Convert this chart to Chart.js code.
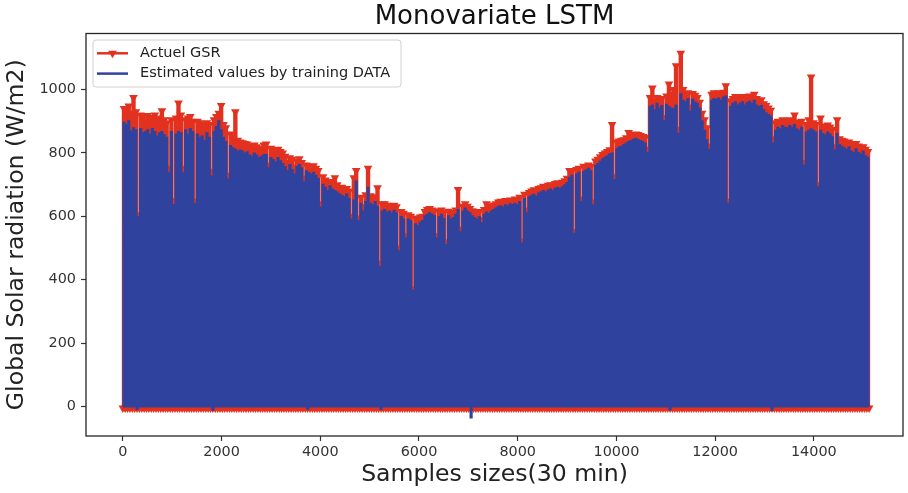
<!DOCTYPE html>
<html>
<head>
<meta charset="utf-8">
<script src="https://cdn.jsdelivr.net/npm/chart.js@4.4.1/dist/chart.umd.min.js"></script>
<style>
  html, body { margin: 0; padding: 0; background: #ffffff; }
  #wrap { width: 908px; height: 493px; }
</style>
</head>
<body>
<div id="wrap"><canvas id="c" width="908" height="493"></canvas></div>
<script>
// ---------------- data ----------------
const chartTitle = "Monovariate LSTM";
const xAxisTitle = "Samples sizes(30 min)";
const yAxisTitle = "Global Solar radiation (W/m2)";
const seriesNames = ["Actuel GSR", "Estimated values by training DATA"];
const samplesPerDay = 48;               // 30-min samples per day
const xTickValues = [0, 2000, 4000, 6000, 8000, 10000, 12000, 14000];
const yTickValues = [0, 200, 400, 600, 800, 1000];

// daily peak of the measured GSR (W/m2), one value per day
const actualDailyPeak = [
  940, 935, 948, 925, 975, 930, 605, 920, 915, 905,
  918, 905, 912, 920, 900, 910, 933, 905, 895, 752,
  905, 650, 910, 958, 920, 752, 905, 910, 915, 900,
  648, 900, 895, 890, 880, 895, 890, 742, 905, 915,
  925, 950, 890, 880, 730, 860, 850, 930, 840, 835,
  832, 830, 828, 822, 818, 825, 820, 815, 812, 825,
  828, 762, 815, 808, 800, 812, 805, 800, 790, 770,
  785, 780, 755, 775, 782, 770, 720, 762, 758, 755,
  760, 752, 745, 640, 725, 715, 705, 710, 705, 722,
  700, 690, 692, 685, 688, 680, 600, 722, 745, 595,
  660, 630, 668, 752, 665, 655, 662, 690, 452, 640,
  640, 635, 632, 628, 635, 630, 500, 615, 610, 540,
  605, 600, 372, 595, 590, 598, 600, 615, 622, 625,
  620, 618, 540, 615, 620, 612, 520, 616, 610, 612,
  620, 685, 560, 632, 640, 632, 625, 618, 612, 608,
  615, 590, 622, 640, 625, 632, 636, 640, 645, 648,
  645, 650, 648, 652, 650, 655, 652, 660, 522, 670,
  620, 675, 680, 684, 680, 688, 690, 695, 692, 698,
  700, 698, 704, 706, 702, 708, 712, 720, 745, 742,
  552, 748, 752, 655, 758, 755, 762, 758, 645, 775,
  780, 788, 795, 800, 805, 810, 890, 725, 835, 838,
  840, 842, 848, 865, 855, 858, 860, 858, 855, 852,
  850, 812, 975, 1005, 965, 975, 965, 972, 912, 980,
  1018, 985, 1000, 1075, 875, 1115, 1000, 985, 990, 945,
  988, 982, 975, 960, 925, 905, 880, 822, 985, 990,
  985, 990, 985, 992, 1012, 648, 965, 972, 978, 970,
  975, 978, 970, 976, 980, 975, 985, 972, 965, 968,
  955, 950, 942, 935, 845, 895, 900, 898, 905, 900,
  900, 905, 902, 920, 898, 895, 900, 770, 890, 905,
  1040, 895, 890, 700, 910, 885, 880, 888, 882, 875,
  820, 905, 845, 840, 838, 832, 835, 828, 825, 830,
  822, 818, 820, 812, 805
];

// daily peak of the LSTM estimate (W/m2), one value per day
const estimatedDailyPeak = [
  895, 888, 900, 868, 878, 872, 598, 876, 862, 866,
  872, 858, 876, 866, 852, 862, 866, 856, 848, 736,
  866, 636, 858, 866, 862, 736, 872, 858, 876, 866,
  638, 858, 848, 852, 838, 862, 848, 726, 866, 882,
  900, 872, 848, 835, 716, 822, 815, 810, 805, 808,
  805, 798, 802, 792, 788, 798, 792, 784, 788, 794,
  794, 752, 784, 778, 770, 784, 774, 765, 756, 742,
  762, 746, 732, 756, 762, 752, 708, 742, 737, 732,
  738, 728, 718, 628, 700, 690, 680, 695, 685, 680,
  675, 670, 665, 660, 670, 655, 590, 650, 710, 585,
  640, 615, 645, 690, 640, 635, 645, 630, 440, 615,
  620, 612, 615, 608, 618, 610, 490, 598, 590, 530,
  590, 585, 365, 575, 570, 580, 585, 600, 605, 610,
  605, 600, 530, 598, 605, 592, 510, 600, 590, 595,
  605, 620, 550, 615, 625, 615, 610, 600, 595, 590,
  598, 578, 605, 612, 608, 615, 620, 625, 630, 632,
  628, 635, 632, 638, 636, 640, 635, 645, 514, 655,
  610, 660, 665, 668, 662, 672, 676, 680, 675, 682,
  685, 680, 688, 690, 686, 692, 698, 705, 722, 728,
  545, 732, 738, 645, 740, 745, 750, 742, 635, 760,
  765, 772, 780, 785, 790, 795, 798, 715, 812, 818,
  820, 825, 830, 835, 838, 842, 845, 840, 838, 835,
  830, 800, 945, 950, 935, 955, 940, 948, 900, 952,
  945, 940, 938, 950, 860, 985, 965, 960, 970, 930,
  968, 960, 955, 940, 900, 870, 840, 810, 965, 970,
  968, 972, 965, 975, 978, 640, 945, 955, 960, 950,
  955, 960, 950, 958, 962, 955, 965, 950, 945, 948,
  935, 925, 920, 915, 830, 870, 880, 875, 885, 880,
  878, 885, 880, 888, 875, 870, 880, 760, 865, 870,
  875, 870, 865, 692, 870, 860, 855, 865, 858, 850,
  808, 860, 825, 820, 815, 810, 818, 805, 800, 812,
  800, 795, 805, 790, 785
];

// night-time level (W/m2); the estimate dips below zero on a few nights
const actualNightLevel = -5;
const estimatedNightLevel = 0;
const estimatedNightDips = [[6, -8], [38, -10], [78, -7], [109, -8], [147, -35], [231, -9], [274, -10]];

// ---------------- build the series ----------------
function buildSeries(peaks, nightLevel, dips) {
  const dipMap = new Map(dips);
  const pts = [];
  for (let d = 0; d <= peaks.length; d++) {
    pts.push({ x: d * samplesPerDay, y: dipMap.has(d) ? dipMap.get(d) : nightLevel });
    if (d < peaks.length) pts.push({ x: d * samplesPerDay + samplesPerDay / 2, y: peaks[d] });
  }
  return pts;
}

const RED = '#E2321F';
const BLUE = '#2F439E';
const FONT = "'DejaVu Sans', 'Liberation Sans', sans-serif";

const framePlugin = {
  id: 'mplFrame',
  afterDraw(chart) {
    const { ctx, chartArea: a } = chart;
    ctx.save();
    ctx.strokeStyle = '#262626';
    ctx.lineWidth = 1.3;
    ctx.strokeRect(a.left, a.top, a.right - a.left, a.bottom - a.top);
    ctx.restore();
  }
};

const legendPlugin = {
  id: 'mplLegend',
  afterDraw(chart) {
    const { ctx, chartArea: a } = chart;
    const x0 = a.left + 7, y0 = a.top + 6.5, w = 308, h = 47, r = 3;
    ctx.save();
    ctx.beginPath();
    ctx.moveTo(x0 + r, y0);
    ctx.lineTo(x0 + w - r, y0);
    ctx.quadraticCurveTo(x0 + w, y0, x0 + w, y0 + r);
    ctx.lineTo(x0 + w, y0 + h - r);
    ctx.quadraticCurveTo(x0 + w, y0 + h, x0 + w - r, y0 + h);
    ctx.lineTo(x0 + r, y0 + h);
    ctx.quadraticCurveTo(x0, y0 + h, x0, y0 + h - r);
    ctx.lineTo(x0, y0 + r);
    ctx.quadraticCurveTo(x0, y0, x0 + r, y0);
    ctx.closePath();
    ctx.fillStyle = 'rgba(255,255,255,0.85)';
    ctx.fill();
    ctx.strokeStyle = '#d0d0d0';
    ctx.lineWidth = 1;
    ctx.stroke();

    chart.data.datasets.forEach((ds, i) => {
      const cy = y0 + 13.3 + i * 20.3;
      ctx.strokeStyle = ds.borderColor;
      ctx.lineWidth = 2.5;
      ctx.beginPath();
      ctx.moveTo(x0 + 4, cy);
      ctx.lineTo(x0 + 35, cy);
      ctx.stroke();
      if (ds.pointRadius > 0) {
        const cx = x0 + 19.5, rr = ds.pointRadius;
        ctx.fillStyle = ds.pointBackgroundColor;
        ctx.beginPath();
        ctx.moveTo(cx, cy + rr);
        ctx.lineTo(cx - 0.866 * rr, cy - 0.5 * rr);
        ctx.lineTo(cx + 0.866 * rr, cy - 0.5 * rr);
        ctx.closePath();
        ctx.fill();
      }
      ctx.fillStyle = '#222222';
      ctx.font = '14.5px ' + FONT;
      ctx.textBaseline = 'middle';
      ctx.textAlign = 'left';
      ctx.fillText(ds.label, x0 + 47, cy);
    });
    ctx.restore();
  }
};

const tickFont = { family: FONT, size: 14.4 };
const titleFont = { family: FONT, size: 23.6, lineHeight: 1.2 };

new Chart(document.getElementById('c'), {
  type: 'line',
  data: {
    datasets: [
      {
        label: seriesNames[0],
        data: buildSeries(actualDailyPeak, actualNightLevel, []),
        borderColor: RED,
        backgroundColor: RED,
        borderWidth: 3.2,
        stepped: 'middle',
        pointStyle: 'triangle',
        rotation: 180,
        pointRotation: 180,
        pointRadius: 5,
        pointBackgroundColor: RED,
        pointBorderColor: RED,
        pointBorderWidth: 0,
        order: 1
      },
      {
        label: seriesNames[1],
        data: buildSeries(estimatedDailyPeak, estimatedNightLevel, estimatedNightDips),
        borderColor: BLUE,
        backgroundColor: BLUE,
        borderWidth: 2,
        stepped: 'middle',
        pointRadius: 0,
        order: 0
      }
    ]
  },
  options: {
    responsive: false,
    devicePixelRatio: 1,
    animation: false,
    events: [],
    parsing: false,
    layout: { padding: { top: 0, right: 1, bottom: 0, left: 0 } },
    plugins: {
      legend: { display: false },
      tooltip: { enabled: false },
      title: {
        display: true,
        text: chartTitle,
        fullSize: false,
        color: '#111111',
        font: { family: FONT, size: 26, weight: 'normal', lineHeight: 1.2 },
        padding: { top: 2, bottom: 0.3 }
      }
    },
    scales: {
      x: {
        type: 'linear',
        min: -746,
        max: 15806,
        afterFit: s => { s.height = 57; },
        afterBuildTicks: s => { s.ticks = xTickValues.map(v => ({ value: v })); },
        ticks: {
          autoSkip: false, maxRotation: 0, minRotation: 0,
          font: tickFont, color: '#333333', padding: 2.5,
          callback: v => String(v)
        },
        grid: { drawOnChartArea: false, drawTicks: true, tickLength: 5, tickColor: '#333333', tickWidth: 1.2 },
        border: { display: false },
        title: { display: true, text: xAxisTitle, color: '#222222', font: titleFont, padding: { top: 0, bottom: 4 } }
      },
      y: {
        type: 'linear',
        min: -93,
        max: 1177,
        afterFit: s => { s.width = 86; },
        afterBuildTicks: s => { s.ticks = yTickValues.map(v => ({ value: v })); },
        ticks: {
          autoSkip: false, font: tickFont, color: '#333333', padding: 5,
          callback: v => String(v)
        },
        grid: { drawOnChartArea: false, drawTicks: true, tickLength: 5, tickColor: '#333333', tickWidth: 1.2 },
        border: { display: false },
        title: { display: true, text: yAxisTitle, color: '#222222', font: titleFont, padding: { top: 2.6, bottom: 0 } }
      }
    }
  },
  plugins: [framePlugin, legendPlugin]
});
</script>
</body>
</html>
